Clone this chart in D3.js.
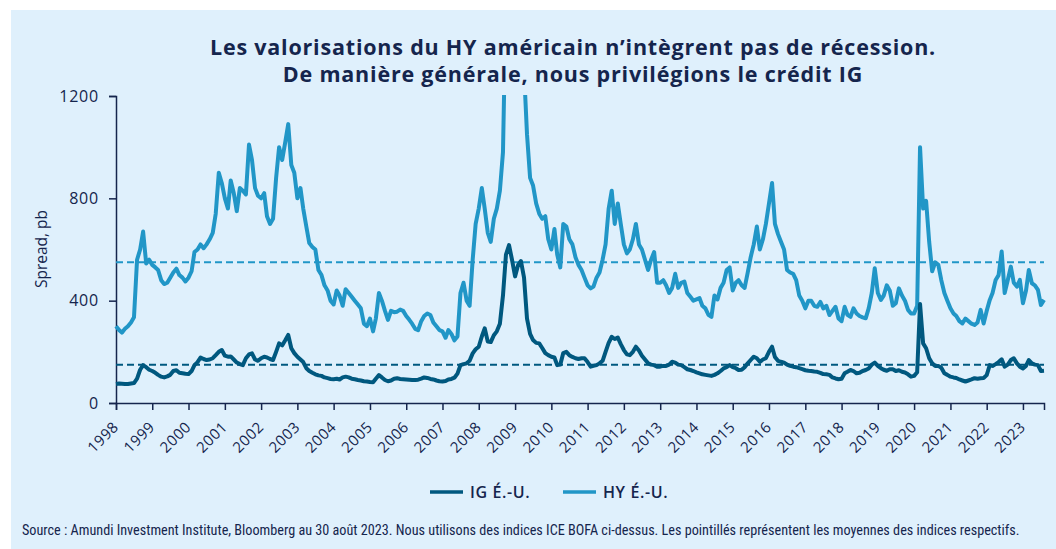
<!DOCTYPE html>
<html>
<head>
<meta charset="utf-8">
<script src="https://cdn.jsdelivr.net/npm/d3@7"></script>
<style>
  body { margin: 0; background: #fff; }
  svg { display: block; }
</style>
</head>
<body>
<div id="chart"></div>
<script>
// Spreads mensuels (pb), janvier 1998 -> août 2023
const startMonth = new Date(1998, 0, 1);
const endMonth = new Date(2023, 7, 1);

const hyValues = [
  300, 285, 275, 290, 300, 315, 335, 560, 600, 670, 545, 560,   // 1998
  540, 530, 520, 480, 465, 470, 490, 510, 525, 500, 490, 475,   // 1999
  490, 515, 590, 600, 620, 605, 620, 640, 665, 740, 900, 860,   // 2000
  800, 760, 870, 820, 750, 840, 830, 815, 1010, 950, 840, 810,  // 2001
  800, 820, 730, 700, 720, 880, 1000, 950, 1020, 1090, 930, 900, // 2002
  800, 840, 760, 690, 625, 610, 600, 520, 500, 460, 440, 400,   // 2003
  385, 440, 420, 380, 445, 430, 415, 400, 385, 370, 310, 300,   // 2004
  330, 280, 330, 430, 400, 360, 325, 360, 355, 357, 365, 360,   // 2005
  340, 325, 310, 290, 285, 320, 340, 350, 344, 315, 300, 285,   // 2006
  280, 255, 285, 270, 245, 260, 430, 470, 400, 380, 560, 700,   // 2007
  760, 840, 760, 665, 630, 720, 760, 830, 980, 1600, 1900, 1800, // 2008
  1650, 1700, 1600, 1300, 1050, 880, 850, 780, 740, 720, 730, 640, // 2009
  600, 680, 580, 530, 700, 690, 640, 620, 570, 540, 520, 490,   // 2010
  460, 448, 455, 490, 510, 560, 620, 760, 830, 700, 780, 700,   // 2011
  620, 585, 600, 640, 700, 620, 600, 560, 520, 560, 590, 470,   // 2012
  470, 480, 460, 430, 450, 505, 450, 470, 475, 430, 415, 400,   // 2013
  405, 410, 380, 370, 345, 337, 420, 405, 450, 470, 520, 530,   // 2014
  440, 470, 480, 460, 450, 510, 570, 620, 690, 600, 640, 700,   // 2015
  780, 860, 700, 660, 630, 600, 520, 510, 505, 480, 420, 400,   // 2016
  370, 400, 400, 380, 376, 395, 370, 380, 344, 360, 376, 330,   // 2017
  320, 376, 345, 337, 370, 350, 340, 335, 331, 370, 430, 527,   // 2018
  430, 403, 420, 460, 440, 380, 390, 448, 420, 400, 364, 350,   // 2019
  350, 380, 1000, 760, 790, 630, 515, 550, 540, 480, 430, 400,  // 2020
  370, 350, 340, 320, 311, 330, 320, 310, 305, 315, 364, 311,   // 2021
  360, 403, 430, 481, 500, 592, 430, 480, 533, 470, 455, 481,   // 2022
  390, 440, 520, 468, 460, 442, 383, 403                        // 2023
];

const igValues = [
  74, 76, 75, 74, 74, 76, 78, 95, 130, 148, 140, 130,           // 1998
  125, 118, 110, 103, 100, 104, 110, 125, 128, 118, 116, 114,   // 1999
  113, 125, 148, 160, 178, 172, 168, 170, 175, 187, 200, 207,   // 2000
  185, 181, 182, 170, 158, 152, 148, 175, 190, 194, 170, 165,   // 2001
  175, 181, 178, 172, 168, 200, 233, 225, 245, 266, 214, 195,   // 2002
  181, 170, 160, 136, 125, 118, 112, 108, 106, 100, 97, 94,     // 2003
  93, 95, 92, 100, 103, 100, 95, 93, 90, 88, 85, 84,            // 2004
  82, 81, 95, 109, 100, 90, 85, 88, 95, 97, 94, 93,             // 2005
  92, 91, 90, 90, 91, 95, 100, 98, 94, 92, 88, 85,              // 2006
  84, 86, 92, 94, 99, 115, 148, 152, 155, 165, 194, 210,        // 2007
  220, 260, 292, 240, 238, 265, 280, 310, 420, 580, 617, 560,   // 2008
  495, 540, 555, 490, 330, 270, 246, 235, 233, 215, 195, 187,   // 2009
  181, 178, 148, 150, 195, 200, 187, 180, 175, 172, 175, 175,   // 2010
  160, 142, 145, 148, 155, 165, 200, 235, 259, 250, 256, 230,   // 2011
  207, 190, 187, 200, 220, 205, 185, 170, 155, 150, 148, 142,   // 2012
  142, 145, 145, 150, 161, 158, 150, 148, 140, 132, 129, 125,   // 2013
  120, 116, 112, 110, 108, 106, 110, 116, 125, 135, 140, 148,   // 2014
  140, 136, 129, 130, 140, 155, 168, 181, 175, 161, 170, 175,   // 2015
  200, 220, 180, 165, 161, 158, 150, 145, 142, 140, 136, 132,   // 2016
  128, 126, 125, 123, 122, 118, 113, 112, 110, 100, 96, 93,     // 2017
  95, 116, 122, 129, 125, 116, 118, 125, 129, 135, 150, 158,    // 2018
  145, 136, 130, 126, 132, 132, 125, 128, 122, 119, 112, 103,   // 2019
  106, 120, 387, 233, 214, 175, 155, 145, 145, 138, 116, 110,   // 2020
  103, 100, 98, 92, 88, 84, 88, 92, 97, 95, 97, 98,             // 2021
  109, 148, 145, 152, 160, 171, 142, 150, 168, 175, 155, 142,   // 2022
  135, 145, 168, 155, 150, 148, 125, 126                        // 2023
];

// Moyennes des indices (pointillés)
const hyMean = 550;
const igMean = 150;

const yTicks = [0, 400, 800, 1200];
const seriesNames = ["IG É.-U.", "HY É.-U."];
const seriesColors = ["#00587f", "#2196c7"];

const titleLines = [
  "Les valorisations du HY américain n’intègrent pas de récession.",
  "De manière générale, nous privilégions le crédit IG"
];
const sourceText = "Source : Amundi Investment Institute, Bloomberg au 30 août 2023. Nous utilisons des indices ICE BOFA ci-dessus. Les pointillés représentent les moyennes des indices respectifs.";

const width = 1056, height = 549;
const navy = "#15254d";
const months = d3.timeMonth.range(startMonth, d3.timeMonth.offset(endMonth, 1));

const svg = d3.select("#chart").append("svg")
  .attr("width", width)
  .attr("height", height);

// Panel de fond
svg.append("rect")
  .attr("x", 11).attr("y", 10)
  .attr("width", width - 11).attr("height", height - 10)
  .attr("fill", "#dff0fc");

// Titre
svg.append("g").selectAll("text")
  .data(titleLines)
  .join("text")
  .attr("x", 573)
  .attr("y", (d, i) => 55 + i * 27)
  .attr("text-anchor", "middle")
  .attr("font-family", "'Open Sans', sans-serif")
  .attr("font-weight", 700)
  .attr("font-size", 21.5)
  .attr("letter-spacing", 0.8)
  .attr("fill", navy)
  .text(d => d);

const x = d3.scaleTime()
  .domain([startMonth, endMonth])
  .range([116, 1044]);

const y = d3.scaleLinear()
  .domain([0, 1200])
  .range([403, 96]);

// Axe Y
const yAxis = svg.append("g")
  .attr("transform", "translate(116,0)")
  .call(d3.axisLeft(y).tickValues(yTicks).tickFormat(d3.format("d")).tickSize(7).tickPadding(10));
yAxis.selectAll("text")
  .attr("font-family", "'Open Sans', sans-serif")
  .attr("font-size", 16)
  .attr("letter-spacing", 0.8)
  .attr("fill", navy);

// Axe X
const xAxis = svg.append("g")
  .attr("transform", "translate(0,403)")
  .call(d3.axisBottom(x).ticks(d3.timeYear.every(1)).tickFormat(d3.timeFormat("%Y")).tickSize(7));
xAxis.selectAll("text")
  .attr("y", 0).attr("dy", 0)
  .attr("text-anchor", "end")
  .attr("transform", "translate(3,25) rotate(-45)")
  .attr("font-family", "'Open Sans', sans-serif")
  .attr("font-size", 15)
  .attr("letter-spacing", 0.5)
  .attr("fill", navy);

svg.selectAll(".domain, .tick line")
  .attr("stroke", navy)
  .attr("stroke-width", 1.5);

// Titre axe Y
svg.append("text")
  .attr("transform", "translate(47,249) rotate(-90)")
  .attr("text-anchor", "middle")
  .attr("font-family", "'Open Sans', sans-serif")
  .attr("font-size", 15.5)
  .attr("fill", navy)
  .text("Spread, pb");

// Zone de tracé avec découpe au sommet
svg.append("clipPath").attr("id", "plot-clip")
  .append("rect")
  .attr("x", 110).attr("y", 95)
  .attr("width", 950).attr("height", 320);

const plot = svg.append("g").attr("clip-path", "url(#plot-clip)");

// Moyennes en pointillés
[igMean, hyMean].forEach((m, i) => {
  plot.append("line")
    .attr("x1", x(startMonth)).attr("x2", x(endMonth))
    .attr("y1", y(m)).attr("y2", y(m))
    .attr("stroke", seriesColors[i])
    .attr("stroke-width", 2)
    .attr("stroke-dasharray", "7,4");
});

const line = d3.line()
  .x((d, i) => x(months[i]))
  .y(d => y(d));

[hyValues, igValues].forEach((vals, k) => {
  plot.append("path")
    .datum(vals)
    .attr("fill", "none")
    .attr("stroke", k === 0 ? seriesColors[1] : seriesColors[0])
    .attr("stroke-width", 4)
    .attr("stroke-linejoin", "round")
    .attr("d", line);
});

// Légende
const legend = svg.append("g");
const legendX = [430, 563];
seriesNames.forEach((name, i) => {
  legend.append("line")
    .attr("x1", legendX[i]).attr("x2", legendX[i] + 33)
    .attr("y1", 492).attr("y2", 492)
    .attr("stroke", seriesColors[i])
    .attr("stroke-width", 3.5);
  legend.append("text")
    .attr("x", legendX[i] + 40)
    .attr("y", 498)
    .attr("font-family", "'Open Sans', sans-serif")
    .attr("font-weight", 600)
    .attr("font-size", 16)
    .attr("letter-spacing", 0.6)
    .attr("fill", navy)
    .text(name);
});

// Source
svg.append("text")
  .attr("x", 22)
  .attr("y", 535)
  .attr("font-family", "'Liberation Sans Narrow', 'Roboto Condensed', sans-serif")
  .attr("font-stretch", "condensed")
  .attr("font-size", 14.2)
  .attr("fill", navy)
  .text(sourceText);
</script>
</body>
</html>
